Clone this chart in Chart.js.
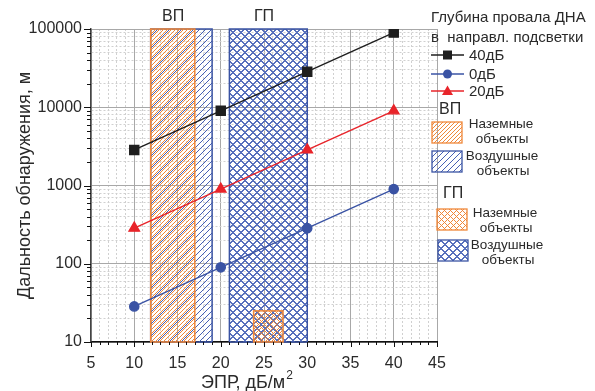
<!DOCTYPE html>
<html>
<head>
<meta charset="utf-8">
<script src="https://cdn.jsdelivr.net/npm/chart.js@4.4.0/dist/chart.umd.min.js"></script>
<style>
  body { margin: 0; background: #fff; }
</style>
</head>
<body>
<canvas id="chart" width="595" height="391"></canvas>
<script>
// ЭПР, дБ/м2
var epr = [10, 20, 30, 40];
// дальность обнаружения, м
var range40 = [2850, 9000, 28500, 90000];
var range0 = [28.5, 90, 285, 900];
var range20 = [285, 900, 2850, 9000];
var seriesNames = ['40дБ', '0дБ', '20дБ'];

var xTickLabels = [5, 10, 15, 20, 25, 30, 35, 40, 45];
var yTickLabels = [10, 100, 1000, 10000, 100000];

// зоны: ВП воздушные, ВП наземные, ГП воздушные, ГП наземные
var zoneX0 = [11.9, 11.9, 21, 23.8];
var zoneX1 = [19, 17, 30, 27.2];
var zoneY0 = [10, 10, 10, 10];
var zoneY1 = [100000, 100000, 100000, 25];
var zoneTitles = ['ВП', 'ГП'];
var zoneTitleX = [14.5, 25];

var BLACK = '#1e1e1e', BLUE = '#3a53a4', RED = '#e8242a', ORANGE = '#f0883a';
var TEXT = '#2a2a2a';
var FONT = "'Liberation Sans', Arial, sans-serif";
Chart.defaults.font.family = FONT;
Chart.defaults.color = TEXT;

// pixel hatch: "/" lines every step px, optional "\" lines too
function hatch(color, step, width, cross) {
    var c = document.createElement('canvas');
    c.width = step; c.height = step;
    var g = c.getContext('2d');
    g.fillStyle = color;
    for (var i = 0; i < step; i++) {
        for (var j = 0; j < step; j++) {
            var a = (i + j) % step, b = ((i - j) % step + step) % step;
            if (a < width || (cross && b < width)) g.fillRect(i, j, 1, 1);
        }
    }
    return document.getElementById('chart').getContext('2d').createPattern(c, 'repeat');
}

var blueDiag = hatch('#4660b4', 6, 1, false);
var orangeDiag = hatch(ORANGE, 4, 1, false);
var blueCross = hatch('#5770bd', 8, 2, true);
var orangeCross = hatch(ORANGE, 6, 1, true);
var zoneFill = [blueDiag, orangeDiag, blueCross, orangeCross];
var zoneColor = [BLUE, ORANGE, BLUE, ORANGE];

function points(arr) {
    return epr.map(function (v, i) { return { x: v, y: arr[i] }; });
}

var yAllTicks = [];
for (var d = 10; d < 100000; d *= 10) {
    for (var m = 1; m < 10; m++) yAllTicks.push(d * m);
}
yAllTicks.push(100000);
var xAllTicks = [];
for (var v = 5; v <= 45; v++) xAllTicks.push(v);

function isMajorY(val) { return yTickLabels.indexOf(val) >= 0; }
function isMajorX(val) { return xTickLabels.indexOf(val) >= 0; }

var zonePlugin = {
    id: 'zones',
    beforeDatasetsDraw: function (chart) {
        var ctx = chart.ctx, x = chart.scales.x, y = chart.scales.y;
        ctx.save();
        for (var i = 0; i < zoneX0.length; i++) {
            var l = x.getPixelForValue(zoneX0[i]), r = x.getPixelForValue(zoneX1[i]);
            var t = y.getPixelForValue(zoneY1[i]), b = y.getPixelForValue(zoneY0[i]);
            ctx.fillStyle = zoneFill[i];
            ctx.fillRect(l, t, r - l, b - t);
            ctx.strokeStyle = zoneColor[i];
            ctx.lineWidth = 1.5;
            ctx.strokeRect(l, t, r - l, b - t);
        }
        ctx.fillStyle = TEXT;
        ctx.font = '16px ' + FONT;
        ctx.textAlign = 'center';
        ctx.textBaseline = 'middle';
        for (var k = 0; k < zoneTitles.length; k++) {
            ctx.fillText(zoneTitles[k], x.getPixelForValue(zoneTitleX[k]), chart.chartArea.top - 12);
        }
        ctx.restore();
    },
    afterDraw: function (chart) {
        var ctx = chart.ctx, x = chart.scales.x, y = chart.scales.y, a = chart.chartArea;
        ctx.save();
        // tick marks
        ctx.strokeStyle = '#111';
        ctx.lineWidth = 1;
        ctx.beginPath();
        xAllTicks.forEach(function (v) {
            var px = Math.round(x.getPixelForValue(v)) + 0.5;
            ctx.moveTo(px, a.bottom);
            ctx.lineTo(px, a.bottom + (isMajorX(v) ? 5 : 3));
        });
        yAllTicks.forEach(function (v) {
            var py = Math.round(y.getPixelForValue(v)) + 0.5;
            ctx.moveTo(a.left, py);
            ctx.lineTo(a.left - (isMajorY(v) ? 7 : 4), py);
        });
        ctx.stroke();

        // x axis title with superscript
        ctx.fillStyle = TEXT;
        ctx.textAlign = 'left';
        ctx.textBaseline = 'alphabetic';
        ctx.font = '18px ' + FONT;
        var xt = 'ЭПР, дБ/м';
        var tx = 201;
        ctx.fillText(xt, tx, 388);
        var w = ctx.measureText(xt).width;
        ctx.font = '12px ' + FONT;
        ctx.fillText('2', tx + w + 1, 379);

        // legend
        var L = a.right - 6;
        ctx.fillStyle = TEXT;
        ctx.textBaseline = 'middle';
        ctx.font = '15px ' + FONT;
        ctx.fillText('Глубина провала ДНА', L, 18);
        ctx.fillText('в  направл. подсветки', L, 38);
        var colors = [BLACK, BLUE, RED], ys = [55, 74, 91];
        for (var i = 0; i < 3; i++) {
            ctx.strokeStyle = colors[i];
            ctx.lineWidth = 1.4;
            ctx.beginPath();
            ctx.moveTo(L, ys[i]); ctx.lineTo(L + 33, ys[i]);
            ctx.stroke();
            ctx.fillStyle = colors[i];
            var cx = L + 16.5;
            ctx.beginPath();
            if (i === 0) ctx.rect(cx - 4.5, ys[i] - 4.5, 9, 9);
            else if (i === 1) ctx.arc(cx, ys[i], 4.5, 0, Math.PI * 2);
            else { ctx.moveTo(cx, ys[i] - 5.5); ctx.lineTo(cx + 5.5, ys[i] + 4); ctx.lineTo(cx - 5.5, ys[i] + 4); ctx.closePath(); }
            ctx.fill();
            ctx.fillStyle = TEXT;
            ctx.fillText(seriesNames[i], L + 38, ys[i] + 1);
        }
        ctx.font = '16px ' + FONT;
        ctx.fillText('ВП', L + 8, 110);
        ctx.fillText('ГП', L + 12, 194);

        var boxes = [
            { x: L + 1, y: 122, fill: orangeDiag, c: ORANGE, t: 'Наземные', ty: 124, ty2: 139, tx: L + 70 },
            { x: L + 1, y: 151, fill: blueDiag, c: BLUE, t: 'Воздушные', ty: 156, ty2: 171, tx: L + 71 },
            { x: L + 6, y: 209, fill: orangeCross, c: ORANGE, t: 'Наземные', ty: 213, ty2: 228, tx: L + 74 },
            { x: L + 7, y: 240, fill: blueCross, c: BLUE, t: 'Воздушные', ty: 245, ty2: 260, tx: L + 76 }
        ];
        ctx.font = '13.5px ' + FONT;
        ctx.textAlign = 'center';
        boxes.forEach(function (b) {
            ctx.fillStyle = b.fill;
            ctx.fillRect(b.x, b.y, 30, 21);
            ctx.strokeStyle = b.c;
            ctx.lineWidth = 1.3;
            ctx.strokeRect(b.x, b.y, 30, 21);
            ctx.fillStyle = TEXT;
            ctx.fillText(b.t, b.tx, b.ty);
            ctx.fillText('объекты', b.tx + 1, b.ty2);
        });
        ctx.restore();
    }
};

var ctx = document.getElementById('chart').getContext('2d');
var chart = new Chart(ctx, {
    type: 'line',
    data: {
        datasets: [
            {
                label: seriesNames[0],
                data: points(range40),
                borderColor: BLACK,
                backgroundColor: BLACK,
                borderWidth: 1.4,
                pointStyle: 'rect',
                pointRadius: 6.4
            },
            {
                label: seriesNames[1],
                data: points(range0),
                borderColor: BLUE,
                backgroundColor: BLUE,
                borderWidth: 1.4,
                pointStyle: 'circle',
                pointRadius: 4.6
            },
            {
                label: seriesNames[2],
                data: points(range20),
                borderColor: RED,
                backgroundColor: RED,
                borderWidth: 1.4,
                pointStyle: 'triangle',
                pointRadius: 6
            }
        ]
    },
    options: {
        responsive: false,
        animation: false,
        layout: { padding: { left: 0, right: 158, top: 29, bottom: 0 } },
        plugins: { legend: { display: false }, tooltip: { enabled: false } },
        scales: {
            x: {
                type: 'linear',
                min: 5,
                max: 45,
                afterBuildTicks: function (scale) {
                    scale.ticks = xAllTicks.map(function (v) { return { value: v }; });
                },
                afterFit: function (scale) { scale.height = 49; },
                ticks: {
                    autoSkip: false,
                    maxRotation: 0,
                    padding: 12,
                    font: { size: 16 },
                    color: TEXT,
                    callback: function (val) { return isMajorX(val) ? String(val) : ''; }
                },
                grid: {
                    drawTicks: false,
                    color: function (c) { return isMajorX(c.tick.value) ? '#a8a8a8' : '#d0d0d0'; },
                    lineWidth: 1
                },
                border: {
                    color: '#111',
                    width: 1.5,
                    dash: function (c) { return c.tick && isMajorX(c.tick.value) ? [] : [2, 2]; }
                }
            },
            y: {
                type: 'logarithmic',
                min: 10,
                max: 100000,
                afterBuildTicks: function (scale) {
                    scale.ticks = yAllTicks.map(function (v) { return { value: v }; });
                },
                afterFit: function (scale) { scale.width = 91; },
                ticks: {
                    autoSkip: false,
                    padding: 9,
                    font: { size: 16 },
                    color: TEXT,
                    callback: function (val) { return isMajorY(val) ? String(val) : ''; }
                },
                grid: {
                    drawTicks: false,
                    color: function (c) { return isMajorY(c.tick.value) ? '#a8a8a8' : '#d0d0d0'; },
                    lineWidth: 1
                },
                border: {
                    color: '#444',
                    width: 1.5,
                    dash: function (c) { return c.tick && isMajorY(c.tick.value) ? [] : [2, 2]; }
                },
                title: {
                    display: true,
                    text: 'Дальность обнаружения, м',
                    font: { size: 18 },
                    color: TEXT,
                    padding: { top: 14, bottom: 0 }
                }
            }
        }
    },
    plugins: [zonePlugin]
});
</script>
</body>
</html>
